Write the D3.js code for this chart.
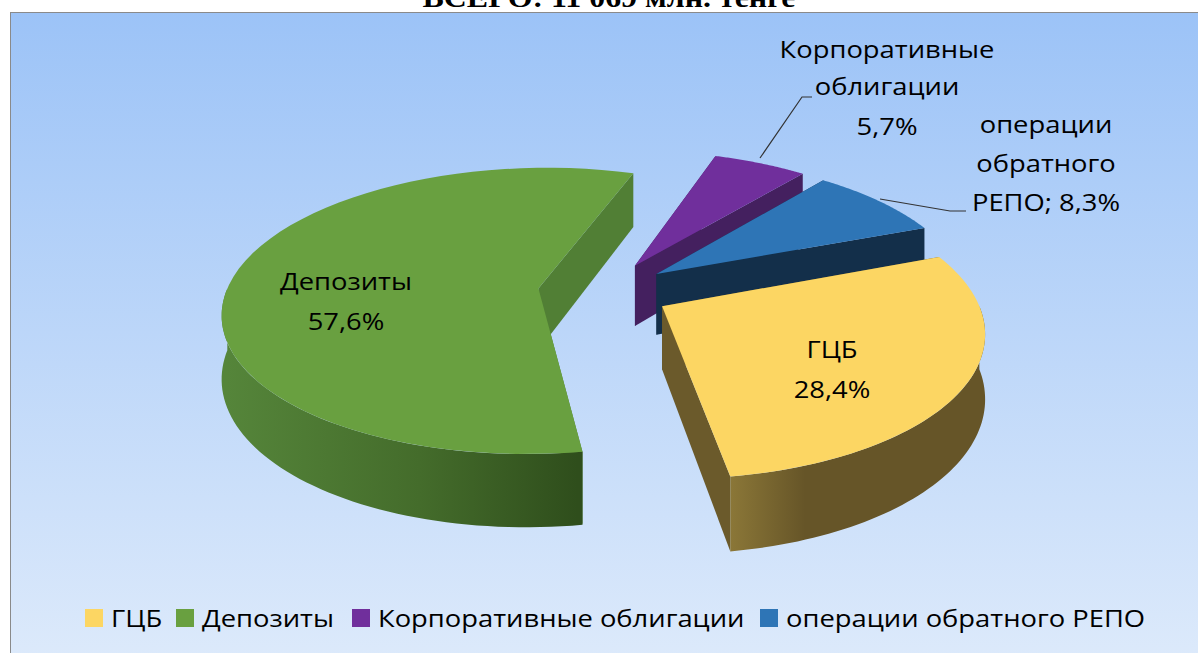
<!DOCTYPE html>
<html>
  <head>
    <meta charset="utf-8" />
    <title>Структура портфеля</title>
    <script src="https://d3js.org/d3.v7.min.js"></script>
    <style>
      html, body { margin: 0; padding: 0; background: #fff; overflow: hidden; }
      text { font-family: "Open Sans", "Noto Sans", sans-serif; fill: #000; }
    </style>
  </head>
  <body>
    <script>
      // Данные
      const categories = ["ГЦБ", "Депозиты", "Корпоративные облигации", "операции обратного РЕПО"];
      const shares = [28.4, 57.6, 5.7, 8.3];
      const topColors = ["#FCD663", "#69A040", "#702F9C", "#2E75B6"];
      const edgeColors = ["#6B5A2B", "#517F35", "#44205F", "#132F4A"];
      const wallLight = ["#8C7838", "#55853A", "#44205F", "#132F4A"];
      const wallDark = ["#665528", "#2F4E1C", "#44205F", "#132F4A"];
      const titleText = "ВСЕГО: 11 069 млн. тенге";

      const w = 1198;
      const h = 653;

      // Параметры псевдо-3D проекции
      const cx = 604;
      const cy = 291;
      const radius = 312;
      const explode = 66;
      const tilt = 0.45;
      const persp = 0.157;
      const depth = 62;
      const startAngle = (69 * Math.PI) / 180;
      const stretch = 1.14; // исходная картинка растянута по горизонтали

      const svg = d3.select("body").append("svg").attr("width", w).attr("height", h);
      const defs = svg.append("defs");

      const bg = defs.append("linearGradient").attr("id", "bg").attr("x1", 0).attr("y1", 0).attr("x2", 0).attr("y2", 1);
      bg.append("stop").attr("offset", "0%").attr("stop-color", "#9CC3F7");
      bg.append("stop").attr("offset", "100%").attr("stop-color", "#DDEAFB");

      svg.append("rect").attr("x", 10.5).attr("y", 12.5).attr("width", w).attr("height", h)
        .attr("fill", "url(#bg)").attr("stroke", "#8a8a8a");

      svg.append("text").attr("text-anchor", "middle")
        .attr("transform", `translate(609,7) scale(${stretch},1)`)
        .style("font-family", "'Liberation Serif', serif").style("font-weight", "bold").style("font-size", "28px")
        .text(titleText);

      const pie = d3.pie().sort(null).startAngle(startAngle).endAngle(startAngle + 2 * Math.PI);
      const arcs = pie(shares).map(function (d, i) {
        d.index = i;
        d.mid = (d.startAngle + d.endAngle) / 2;
        return d;
      });

      // Точка на круге -> экран
      function proj(d, a, r, z) {
        const X = explode * Math.sin(d.mid) + r * Math.sin(a);
        const Z = -explode * Math.cos(d.mid) - r * Math.cos(a);
        const p = 1 / (1 - (persp * Z) / radius);
        return [cx + X * p, cy + tilt * Z * p + z * p];
      }

      function arcPoints(d, from, to, z) {
        const n = 60;
        return d3.range(n + 1).map(function (i) {
          return proj(d, from + ((to - from) * i) / n, radius, z);
        });
      }

      const closed = d3.line().curve(d3.curveLinearClosed);

      // Порядок рисования: дальние сектора первыми
      const drawOrder = [2, 3, 1, 0];

      drawOrder.forEach(function (idx) {
        const d = arcs[idx];
        const g = svg.append("g");
        const topArc = arcPoints(d, d.startAngle, d.endAngle, 0);

        // боковые стенки
        [d.startAngle, d.endAngle].forEach(function (a) {
          g.append("path")
            .attr("d", closed([
              proj(d, a, 0, 0),
              proj(d, a, radius, 0),
              proj(d, a, radius, depth),
              proj(d, a, 0, depth),
            ]))
            .attr("fill", edgeColors[idx]);
        });

        // внешняя стенка, только передняя половина круга
        const from = Math.max(d.startAngle, Math.PI / 2);
        const to = Math.min(d.endAngle, (3 * Math.PI) / 2);
        if (to > from) {
          const grad = defs.append("linearGradient").attr("id", "wall" + idx)
            .attr("gradientUnits", "userSpaceOnUse").attr("y1", 0).attr("y2", 0);
          if (idx === 0) {
            // у жёлтого сектора свет слева, темнее к середине
            grad.attr("x1", 728).attr("x2", 985);
            grad.append("stop").attr("offset", "0%").attr("stop-color", wallLight[idx]);
            grad.append("stop").attr("offset", "30%").attr("stop-color", wallDark[idx]);
            grad.append("stop").attr("offset", "100%").attr("stop-color", wallDark[idx]);
          } else {
            grad.attr("x1", 227).attr("x2", 577);
            grad.append("stop").attr("offset", "0%").attr("stop-color", wallLight[idx]);
            grad.append("stop").attr("offset", "55%").attr("stop-color", "#446C2B");
            grad.append("stop").attr("offset", "100%").attr("stop-color", wallDark[idx]);
          }
          const t = arcPoints(d, from, to, 0);
          const b = arcPoints(d, from, to, depth);
          g.append("path")
            .attr("d", closed(t.concat(b.reverse())))
            .attr("fill", "url(#wall" + idx + ")");
        }

        // верхняя грань
        g.append("path")
          .attr("d", closed([proj(d, d.startAngle, 0, 0)].concat(topArc)))
          .attr("fill", topColors[idx]);
      });

      // Выноски
      const leaders = [
        [[760, 158], [802, 97], [812, 97]],
        [[880, 199], [950, 211], [966, 211]],
      ];
      const line = d3.line();
      leaders.forEach(function (l) {
        svg.append("path").attr("d", line(l)).attr("fill", "none").attr("stroke", "#333").attr("stroke-width", 1.2);
      });

      // Подписи
      const fmt = function (v) { return String(v).replace(".", ",") + "%"; };
      const labels = [
        { x: 832, y: [358, 398], t: [categories[0], fmt(shares[0])] },
        { x: 346, y: [290, 330], t: [categories[1], fmt(shares[1])] },
        { x: 887, y: [58, 95, 135], t: ["Корпоративные", "облигации", fmt(shares[2])] },
        { x: 1046, y: [133, 172, 211], t: ["операции", "обратного", "РЕПО; " + fmt(shares[3])] },
      ];
      labels.forEach(function (l) {
        l.t.forEach(function (s, i) {
          svg.append("text").attr("text-anchor", "middle")
            .attr("transform", `translate(${l.x},${l.y[i]}) scale(${stretch},1)`)
            .style("font-size", "24px").text(s);
        });
      });

      // Легенда
      const legendX = [85, 176, 352, 760];
      const legend = svg.append("g");
      categories.forEach(function (c, i) {
        legend.append("rect").attr("x", legendX[i]).attr("y", 609).attr("width", 18).attr("height", 18).attr("fill", topColors[i]);
        legend.append("text").attr("transform", `translate(${legendX[i] + 26},627) scale(${stretch},1)`)
          .style("font-size", "24px").text(c);
      });
    </script>
  </body>
</html>
